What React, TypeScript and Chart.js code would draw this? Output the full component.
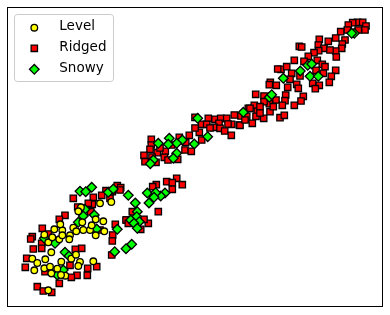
import React, { useEffect, useRef } from "react";
import { Chart, registerables } from "chart.js";
import { drawPoint } from "chart.js/helpers";

Chart.register(...registerables);

const seriesNames = ["Level", "Ridged", "Snowy"];

const levelX = [32.3,37.3,34.3,45.3,44.3,50,57.3,61.3,71.3,76,80,78.3,93.3,51.3,65.3,61,48.3,51.3,44.3,48.3,52.3,59.3,62.3,60.3,62.3,70,69.3,73.3,76.3,83.3,90,95.7,104.3,103.3,95.7,91.7,82.3,81,78.3,100,111.3,54.3];
const levelY = [258.7,263,270.3,259.3,268.3,266.7,268.7,261.7,258.7,254.7,262,266,261.3,273.3,275.7,275,290.3,252.3,234.7,242.3,237.3,239.3,230.3,224.3,235.3,235.3,239.3,227.7,231.3,230,230,235.3,231.3,221.3,219.3,225.3,222.3,207.3,211.3,203.3,202,229.3];

const ridgedX = [117.3,106,112.3,101.7,93.3,73.3,92.3,77.7,88.3,110,90.7,65,59.3,42.3,32.3,30.7,41.7,41.7,33.3,81.7,75.3,26.7,25.3,112.7,115.3,112.3,126.7,111.7,96.7,87.7,87.3,77,71.3,59.3,37.3,43.3,51.7,45,70,53.3,100,48.3,
  195,208.3,215,220.7,226.7,234.3,248.3,201.7,206.7,219,214,220,231.7,239.3,224.7,231.3,199.3,189.3,179.3,201.7,185.7,185,191.3,151.3,151.3,150,157.3,144,145,156,165.3,164.3,177.7,171.7,176.7,166.7,172.3,182.3,172.3,156.3,152.7,158.3,132.3,126,148.3,144,140.7,128.3,120.7,
  357.7,352.7,362.7,348.3,366,347.3,340.7,365,358.3,345,335.7,328.3,319.3,318.3,299.3,301.7,324,318.7,314,342.3,341.7,335.7,336.3,308.3,304,294.3,317.3,322.3,325,335.7,331.3,329.3,323.3,316,312.7,319.3,315.3,281,277.7,286.7,291.7,290,296.7,298.3,303.3,301,294.3,287.7,285.7,285,270.3,269.3,276.3,255.7,264,276,282.3,269.3,264,254.3,250,257.3,270,256,246.7,263.7,252.3,240,280,284.3,273.3,260,
  241,228,210,245,152,160,168,195,330,300,260,120];
const ridgedY = [185.7,190.7,191.7,195.3,197.3,198.3,204.3,207,203.3,198.3,211.7,215.3,219.3,228.3,236.7,239,243.3,248.3,249,248.3,249.3,258.3,267.3,235,224.3,241,220,255,266.7,268.3,275.3,275.3,277.3,283.3,286.7,291,292.3,271.7,265.3,273.3,230,234,
  117.3,118.3,119.3,118.3,118.3,115,108.3,124.3,124.3,123.3,127.3,128.3,124.3,125,131,135.3,132.3,135.3,137.3,140,142.3,150,151.3,139.3,145,149.3,152.7,155.3,161.7,162.3,151.3,157.3,159.3,145,178.3,181.7,182.7,184.7,189.3,184.7,186.7,211.7,211.7,220,223.3,219.3,229.3,223.3,187.7,
  22.3,22.7,22.3,25,26,30,31.7,30,30,40,38,41.3,39.3,45,46.3,47,48.3,50.7,52.7,44,48.3,51,57,56.3,61.3,60.3,60.3,64.3,66.7,70.3,76.3,82.3,73.3,70.3,83.3,85.3,88.7,69.3,69,66.7,73.3,79.3,84.3,88.3,96.3,101,105.3,87.3,95,100.7,82.3,84.7,85.3,94.3,96,100,105.3,103.7,101.7,105.3,108.3,111.3,111.7,116.3,116.3,118.3,123.3,125.3,117.7,115.3,106.7,106.7,
  116,124,128,120,157,148,160,128,50,76,113,190];

const snowyX = [91.7,80,85.7,108.3,113.3,85,83.3,94.3,78.3,96.7,117.3,44.3,55,65,69,63.3,57.3,114.7,
  197.7,243.3,207.7,194.3,169.3,182.3,176.7,158.3,168.3,176.7,173.3,153.3,150.3,165,147.3,160.7,155.7,154,149,128.3,135.3,137.3,136.7,130.7,139.3,134,137.3,131.7,126,
  354.3,351.7,307.7,311.7,300.3,283.3,310,318.3,269.3,271.7];
const snowyY = [187.3,191.3,191.7,192.3,189,209.3,216,215,222.3,229,229.3,238.3,243.3,252.3,256,270,275,251.7,
  118.3,112.3,136.7,144,138.3,140,143.3,143.3,144.3,153.3,158.3,160,163.7,193,193,196,192.7,197.3,203,195.3,203,211.7,216.7,220,221.7,223.3,228.3,244.3,248.7,
  33.3,33.3,65.3,64,71,78.3,76.3,76.3,97.3,94.7];

const xRange = [7, 383];
const yRange = [7, 307];

const zip = (xs: number[], ys: number[]) => xs.map((x, i) => ({ x, y: ys[i] }));

const frameAndLegend = {
  id: "frameAndLegend",
  afterDraw(chart: any) {
    const { ctx, chartArea } = chart;
    ctx.save();
    ctx.strokeStyle = "#000";
    ctx.lineWidth = 1;
    ctx.strokeRect(chartArea.left + 0.5, chartArea.top + 0.5, chartArea.width - 1, chartArea.height - 1);

    ctx.beginPath();
    ctx.roundRect(14.5, 14.5, 99, 67, 3);
    ctx.fillStyle = "rgba(255,255,255,0.8)";
    ctx.fill();
    ctx.strokeStyle = "#cccccc";
    ctx.stroke();

    const markerY = [27.7, 48.3, 69.3];
    const textY = [26, 47, 68];
    chart.data.datasets.forEach((ds: any, i: number) => {
      ctx.fillStyle = ds.backgroundColor;
      ctx.strokeStyle = ds.borderColor;
      ctx.lineWidth = ds.borderWidth;
      drawPoint(ctx, { pointStyle: ds.pointStyle, radius: ds.pointRadius, rotation: 0, borderWidth: ds.borderWidth }, 34.3, markerY[i]);
      ctx.fillStyle = "#000";
      ctx.font = '13.5px "DejaVu Sans"';
      ctx.textBaseline = "middle";
      ctx.fillText(ds.label, 59.3, textY[i]);
    });
    ctx.restore();
  },
};

export default function App() {
  const ref = useRef<HTMLCanvasElement>(null);
  useEffect(() => {
    const common = { showLine: false, borderColor: "#000", borderWidth: 1.3 };
    const chart = new Chart(ref.current!, {
      type: "scatter",
      data: {
        datasets: [
          { ...common, label: seriesNames[0], data: zip(levelX, levelY), backgroundColor: "#ffff00", pointStyle: "circle", pointRadius: 3.3, order: 1 },
          { ...common, label: seriesNames[1], data: zip(ridgedX, ridgedY), backgroundColor: "#ff0000", pointStyle: "rect", pointRadius: 4.5, order: 3 },
          { ...common, label: seriesNames[2], data: zip(snowyX, snowyY), backgroundColor: "#00ff00", pointStyle: "rectRot", pointRadius: 4.8, order: 2 },
        ],
      } as any,
      options: {
        animation: false,
        responsive: false,
        events: [],
        layout: { padding: { left: 7, top: 7, right: 7, bottom: 8 } },
        plugins: { legend: { display: false }, tooltip: { enabled: false } },
        scales: {
          x: { type: "linear", display: false, min: xRange[0], max: xRange[1] },
          y: { type: "linear", display: false, reverse: true, min: yRange[0], max: yRange[1] },
        },
      },
      plugins: [frameAndLegend],
    } as any);
    return () => chart.destroy();
  }, []);
  return (
    <canvas
      ref={ref}
      width={390}
      height={315}
      style={{ position: "absolute", left: 0, top: 0, width: 390, height: 315, display: "block" }}
    />
  );
}
